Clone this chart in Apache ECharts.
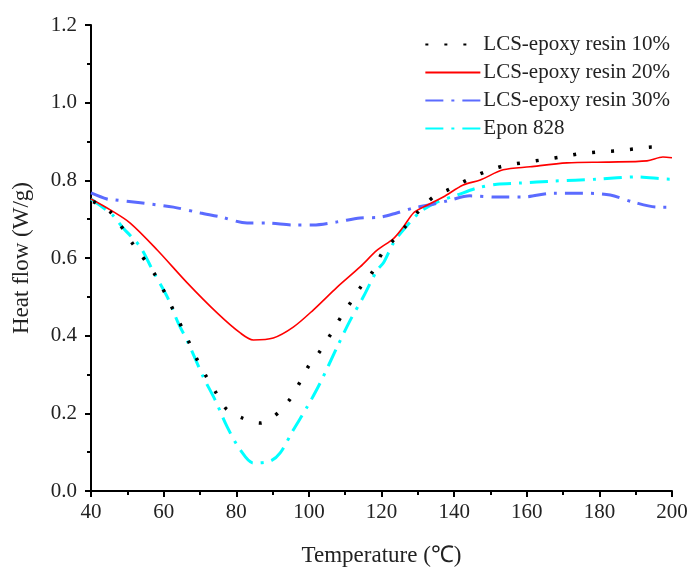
<!DOCTYPE html>
<html><head><meta charset="utf-8">
<script src="https://cdn.jsdelivr.net/npm/echarts@6/dist/echarts.min.js"></script>
<style>html,body{margin:0;padding:0;background:#fff}#c{width:689px;height:567px}</style>
</head><body><div id="c"></div>
<script>
const seriesNames = ['LCS-epoxy resin 10%', 'LCS-epoxy resin 20%', 'LCS-epoxy resin 30%', 'Epon 828'];
const xTicks = [40, 60, 80, 100, 120, 140, 160, 180, 200];
const yTicks = [0.0, 0.2, 0.4, 0.6, 0.8, 1.0, 1.2];

const t10 = [40.6,45.3,51.4,57.7,62.4,67.1,69.3,71.8,74.5,77.3,81.7,86.6,90.5,94.6,97.4,99.8,102.9,105.9,108.7,111.4,114.1,117.5,120.2,123.3,126.5,130.1,134.3,138.9,143.6,148.5,153.5,158.7,163.7,169.2,174.1,179.4,184.9,189.8,194.8,197.3];
const v10 = [0.745,0.719,0.638,0.556,0.471,0.381,0.337,0.294,0.252,0.211,0.188,0.175,0.193,0.234,0.278,0.320,0.358,0.402,0.446,0.484,0.523,0.564,0.613,0.646,0.680,0.719,0.757,0.778,0.801,0.822,0.837,0.845,0.852,0.860,0.868,0.873,0.876,0.881,0.886,0.883];

const t20 = [40,45.3,50.8,58.3,66.5,74.8,81.1,84.7,90.2,95.7,101.2,107.8,114.1,118.8,123.3,126.0,128.8,131.5,137.0,142.5,147.2,153.5,160.9,171.1,182.1,193.1,197.5,200];
const v20 = [0.752,0.724,0.690,0.620,0.536,0.458,0.407,0.389,0.394,0.422,0.466,0.525,0.577,0.620,0.650,0.680,0.716,0.731,0.757,0.788,0.801,0.827,0.835,0.845,0.847,0.850,0.860,0.858];

const t30 = [40,44.4,46.1,53.6,62.7,70.1,75.6,83.0,88.5,95.7,101.2,107.8,114.1,119.6,124.2,128.8,133.4,138.1,144.4,151.8,159.0,167.3,174.7,183.0,189.3,195.9,200];
const v30 = [0.768,0.752,0.750,0.742,0.731,0.716,0.706,0.690,0.690,0.685,0.685,0.693,0.703,0.705,0.716,0.729,0.737,0.747,0.760,0.757,0.757,0.767,0.767,0.762,0.744,0.731,0.731];

const tEp = [40,45.9,48.6,53.6,57.2,61.0,64.0,66.8,70.9,74.2,77.5,81.1,84.7,89.4,92.1,95.7,99.5,103.1,107.8,111.4,115.0,118.8,120.5,123.3,126.0,130.7,135.3,140.8,146.3,151.8,158.2,167.3,179.4,190.4,199.5,200];
const vEp = [0.752,0.711,0.680,0.628,0.564,0.500,0.433,0.381,0.294,0.234,0.165,0.106,0.072,0.077,0.098,0.157,0.216,0.278,0.371,0.440,0.500,0.569,0.587,0.639,0.672,0.719,0.744,0.762,0.780,0.790,0.793,0.798,0.803,0.809,0.803,0.803];

const zip = (a, b) => a.map((x, i) => [x, b[i]]);
const FONT = 'Liberation Serif';

const chart = echarts.init(document.getElementById('c'), null, {renderer: 'canvas'});
chart.setOption({
  animation: false,
  backgroundColor: '#fff',
  grid: {left: 91, right: 17, top: 25, bottom: 76, containLabel: false, outerBoundsMode: 'none'},
  legend: {
    data: seriesNames,
    orient: 'vertical',
    right: 14, top: 29,
    itemWidth: 55, itemHeight: 14, itemGap: 7,
    itemStyle: {opacity: 0},
    textStyle: {fontFamily: FONT, fontSize: 21, color: '#222', padding: [0, 0, 0, -2]},
  },
  xAxis: {
    type: 'value', min: 40, max: 200, interval: 20,
    name: 'Temperature (℃)', nameLocation: 'middle', nameGap: 53,
    nameTextStyle: {fontFamily: FONT, fontSize: 23, color: '#222'},
    axisLine: {lineStyle: {color: '#000', width: 2}},
    axisTick: {show: true, length: 6, lineStyle: {color: '#000', width: 2}},
    minorTick: {show: true, splitNumber: 2, length: 4, lineStyle: {color: '#000', width: 2}},
    axisLabel: {fontFamily: FONT, fontSize: 21, color: '#222', margin: 11,
      formatter: v => xTicks.includes(v) ? String(v) : ''},
    splitLine: {show: false},
  },
  yAxis: {
    type: 'value', min: 0, max: 1.2, interval: 0.2,
    name: 'Heat flow (W/g)', nameLocation: 'middle', nameGap: 58, nameRotate: 90,
    nameTextStyle: {fontFamily: FONT, fontSize: 23, color: '#222'},
    axisLine: {show: true, lineStyle: {color: '#000', width: 2}},
    axisTick: {show: true, length: 6, lineStyle: {color: '#000', width: 2}},
    minorTick: {show: true, splitNumber: 2, length: 4, lineStyle: {color: '#000', width: 2}},
    axisLabel: {fontFamily: FONT, fontSize: 21, color: '#222', margin: 14,
      formatter: v => { const t = yTicks.find(y => Math.abs(y - v) < 1e-6); return t === undefined ? '' : t.toFixed(1); }},
    splitLine: {show: false},
  },
  series: [
    {name: seriesNames[3], type: 'line', data: zip(tEp, vEp), symbol: 'none', smooth: 0.3,
      lineStyle: {color: '#00FFFF', width: 3, type: [18, 8, 3, 8]}, itemStyle: {color: '#00FFFF'}},
    {name: seriesNames[2], type: 'line', data: zip(t30, v30), symbol: 'none', smooth: 0.3,
      lineStyle: {color: '#5B6BFF', width: 3, type: [18, 8, 3, 8]}, itemStyle: {color: '#5B6BFF'}},
    {name: seriesNames[1], type: 'line', data: zip(t20, v20), symbol: 'none', smooth: 0.3,
      lineStyle: {color: '#FF0000', width: 1.6, type: 'solid'}, itemStyle: {color: '#FF0000'}},
    {name: seriesNames[0], type: 'line', data: zip(t10, v10), symbol: 'none', smooth: 0.3,
      lineStyle: {color: '#000', width: 3.5, type: [3, 16], cap: 'butt'}, itemStyle: {color: '#000'}},
  ],
});
</script></body></html>
